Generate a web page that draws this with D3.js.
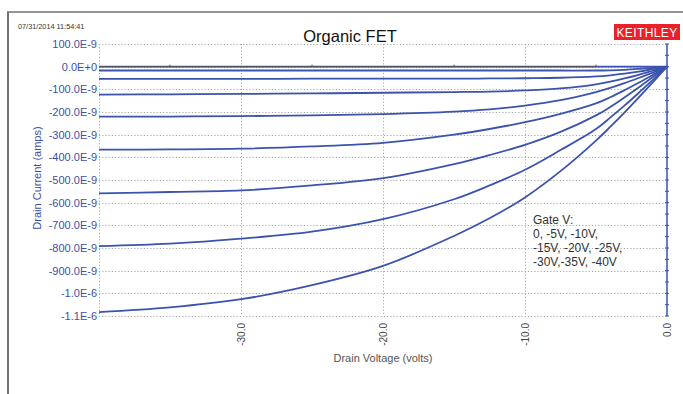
<!DOCTYPE html>
<html><head><meta charset="utf-8">
<script src="https://cdn.jsdelivr.net/npm/d3@7/dist/d3.min.js"></script>
<style>body{margin:0;background:#fff;}svg{display:block;font-family:"Liberation Sans",Arial,sans-serif;}</style>
</head><body>
<svg id="c" width="683" height="394"></svg>
<script>
// Data (drain current in nA)
const drainV = [-40,-35,-30,-25,-20,-15,-12.5,-10,-7.5,-5,-4,-3,-2,-1,0];
const iG0  = [0,0,0,0,0,0,0,0,0,0,0,0,0,0,0];
const iG5  = [-17,-17,-17,-17,-17,-17,-17,-17,-17,-17,-16,-14,-10,-5,0];
const iG10 = [-54,-54,-54,-53,-53,-53,-52,-51,-49,-43,-38,-31,-22,-11,0];
const iG15 = [-123,-122,-120,-118,-115,-112,-110,-105,-96,-78,-66,-52,-36,-18,0];
const iG20 = [-220,-220,-218,-215,-209,-198,-188,-172,-148,-112,-94,-73,-50,-26,0];
const iG25 = [-366,-365,-362,-352,-336,-300,-275,-245,-208,-162,-135,-104,-71,-36,0];
const iG30 = [-559,-553,-546,-524,-492,-430,-390,-345,-288,-215,-178,-136,-92,-46,0];
const iG35 = [-792,-781,-759,-728,-673,-585,-524,-455,-368,-275,-225,-172,-116,-58,0];
const iG40 = [-1083,-1062,-1026,-964,-879,-747,-669,-577,-461,-326,-266,-203,-137,-69,0];
const seriesList = [iG0,iG5,iG10,iG15,iG20,iG25,iG30,iG35,iG40];
const yTickVals = [100e-9,0,-100e-9,-200e-9,-300e-9,-400e-9,-500e-9,-600e-9,-700e-9,-800e-9,-900e-9,-1.0e-6,-1.1e-6];
const yTickLabels = ["100.0E-9","0.0E+0","-100.0E-9","-200.0E-9","-300.0E-9","-400.0E-9","-500.0E-9","-600.0E-9","-700.0E-9","-800.0E-9","-900.0E-9","-1.0E-6","-1.1E-6"];
const xTickVals = [-30,-20,-10,0];
const xTickLabels = ["-30.0","-20.0","-10.0","0.0"];
const legendLines = ["Gate V:","0, -5V, -10V,","-15V, -20V, -25V,","-30V,-35V, -40V"];

const svg = d3.select("#c");
const x = d3.scaleLinear().domain([-40,0]).range([99,667]);
const y = d3.scaleLinear().domain([-1.1e-6,100e-9]).range([316,44]);
const blue = "#3b53ad";

// frame
svg.append("line").attr("x1",8).attr("x2",8).attr("y1",12).attr("y2",394).attr("stroke","#707070").attr("stroke-width",2);
svg.append("line").attr("x1",7).attr("x2",683).attr("y1",12).attr("y2",12).attr("stroke","#707070").attr("stroke-width",1.5);

// grid
const g = svg.append("g");
g.selectAll("line.hg").data(yTickVals).join("line")
  .attr("x1",x(-40)).attr("x2",x(0)).attr("y1",d=>Math.round(y(d))+0.5).attr("y2",d=>Math.round(y(d))+0.5)
  .attr("stroke","#a8a8a8").attr("stroke-dasharray","1.2,2").attr("stroke-width",1);
g.selectAll("line.vg").data([-40,-30,-20,-10]).join("line")
  .attr("x1",d=>Math.round(x(d))+0.5).attr("x2",d=>Math.round(x(d))+0.5).attr("y1",y(100e-9)).attr("y2",y(-1.1e-6))
  .attr("stroke","#a8a8a8").attr("stroke-dasharray","1.2,2").attr("stroke-width",1);

// y tick labels
svg.selectAll("text.yl").data(yTickVals).join("text")
  .attr("x",97).attr("y",d=>y(d)+4).attr("text-anchor","end")
  .attr("font-size",11).attr("fill","#3d4fa6").text((d,i)=>yTickLabels[i]);

// x tick labels (rotated)
svg.selectAll("text.xl").data(xTickVals).join("text")
  .attr("transform",d=>`translate(${x(d)+3.5},323) rotate(-90)`)
  .attr("text-anchor","end").attr("font-size",10).attr("fill","#444").text((d,i)=>xTickLabels[i]);

// curves
const line = d3.line().x((d,i)=>x(drainV[i])).y(d=>y(d*1e-9)).curve(d3.curveCatmullRom.alpha(0.5));
svg.selectAll("path.s").data(seriesList).join("path")
  .attr("d",line).attr("fill","none").attr("stroke",blue).attr("stroke-width",1.8);

// zero line with minor ticks
svg.append("line").attr("x1",x(-40)).attr("x2",x(-5)).attr("y1",y(0)).attr("y2",y(0)).attr("stroke","#555").attr("stroke-width",1);
svg.selectAll("line.zt").data([-35,-25,-15,-5]).join("line")
  .attr("x1",d=>x(d)).attr("x2",d=>x(d)).attr("y1",y(0)-2).attr("y2",y(0)).attr("stroke","#555");

// right axis
svg.append("line").attr("x1",x(0)).attr("x2",x(0)).attr("y1",y(100e-9)).attr("y2",y(-1.1e-6)).attr("stroke",blue).attr("stroke-width",1.5);
svg.selectAll("line.rt").data(d3.range(0,25).map(i=>100e-9-i*50e-9)).join("line")
  .attr("x1",x(0)-2).attr("x2",x(0)+2).attr("y1",d=>y(d)).attr("y2",d=>y(d)).attr("stroke",blue).attr("stroke-width",1);

// titles
svg.append("text").attr("x",350).attr("y",42).attr("text-anchor","middle").attr("font-size",16.5).attr("fill","#111").text("Organic FET");
svg.append("text").attr("x",18).attr("y",29).attr("font-size",7.3).attr("fill","#333").text("07/31/2014 11:54:41");
svg.append("text").attr("transform","translate(41,178) rotate(-90)").attr("text-anchor","middle").attr("font-size",11).attr("fill","#3d4fa6").text("Drain Current (amps)");
svg.append("text").attr("x",383).attr("y",362).attr("text-anchor","middle").attr("font-size",11).attr("fill","#555").text("Drain Voltage (volts)");

// logo
svg.append("rect").attr("x",614).attr("y",24).attr("width",66).attr("height",16).attr("fill","#e8212b");
svg.append("text").attr("x",647).attr("y",36.5).attr("text-anchor","middle").attr("font-size",12).attr("fill","#fff").attr("letter-spacing",0.4).text("KEITHLEY");

// legend text
svg.selectAll("text.lg").data(legendLines).join("text")
  .attr("x",533).attr("y",(d,i)=>224+i*14).attr("font-size",12).attr("fill","#333").text(d=>d);
</script>
</body></html>
